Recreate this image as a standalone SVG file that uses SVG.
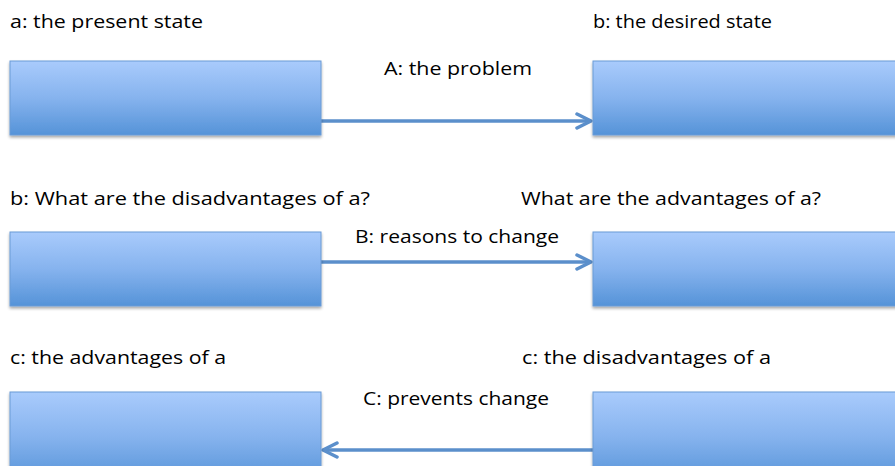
<svg xmlns="http://www.w3.org/2000/svg" width="895" height="466" viewBox="0 0 895 466">
  <defs>
    <linearGradient id="boxFill" x1="0" y1="0" x2="0" y2="1">
      <stop offset="0" stop-color="#a9cbfc"/>
      <stop offset="0.5" stop-color="#86b3ee"/>
      <stop offset="1" stop-color="#5593d8"/>
    </linearGradient>
    <filter id="shadow" x="-5%" y="-10%" width="110%" height="130%">
      <feGaussianBlur in="SourceAlpha" stdDeviation="1.5"/>
      <feOffset dx="0" dy="2" result="b"/>
      <feComponentTransfer><feFuncA type="linear" slope="0.35"/></feComponentTransfer>
      <feMerge><feMergeNode/><feMergeNode in="SourceGraphic"/></feMerge>
    </filter>
    <marker id="head" markerWidth="18" markerHeight="18" refX="16" refY="9" orient="auto" markerUnits="userSpaceOnUse">
      <path d="M2,2 L16,9 L2,16" fill="none" stroke="#5b8fcb" stroke-width="3.5" stroke-linecap="round" stroke-linejoin="round"/>
    </marker>
  </defs>
  <style>
    .box { fill: url(#boxFill); stroke: #6b9bd6; stroke-width: 1; filter: url(#shadow); }
    .lbl { font-family: "Open Sans", "Liberation Sans", sans-serif; font-size: 19px; fill: #000; }
    .conn { stroke: #5b8fcb; stroke-width: 3.5; fill: none; marker-end: url(#head); }
  </style>
  <rect width="895" height="466" fill="#fff"/>

  <g id="connectors">
    <line class="conn" x1="321" y1="121" x2="591" y2="121"/>
    <line class="conn" x1="321" y1="262" x2="591" y2="262"/>
    <line class="conn" x1="593" y1="450" x2="323" y2="450"/>
  </g>

  <g id="present-state">
    <rect class="box" x="10" y="61" width="311" height="74"/>
    <text class="lbl" x="10" y="28" textLength="193" lengthAdjust="spacingAndGlyphs">a: the present state</text>
  </g>
  <g id="desired-state">
    <rect class="box" x="593" y="61" width="310" height="74"/>
    <text class="lbl" x="593" y="28" textLength="179" lengthAdjust="spacingAndGlyphs">b: the desired state</text>
  </g>
  <g id="label-problem">
    <text class="lbl" x="384" y="75" textLength="148" lengthAdjust="spacingAndGlyphs">A: the problem</text>
  </g>

  <g id="disadvantages-question">
    <rect class="box" x="10" y="232" width="311" height="74"/>
    <text class="lbl" x="10" y="205" textLength="360" lengthAdjust="spacingAndGlyphs">b: What are the disadvantages of a?</text>
  </g>
  <g id="advantages-question">
    <rect class="box" x="593" y="232" width="310" height="74"/>
    <text class="lbl" x="521" y="205" textLength="300" lengthAdjust="spacingAndGlyphs">What are the advantages of a?</text>
  </g>
  <g id="label-reasons">
    <text class="lbl" x="355" y="243" textLength="204" lengthAdjust="spacingAndGlyphs">B: reasons to change</text>
  </g>

  <g id="advantages-of-a">
    <rect class="box" x="10" y="392" width="311" height="90"/>
    <text class="lbl" x="10" y="364" textLength="216" lengthAdjust="spacingAndGlyphs">c: the advantages of a</text>
  </g>
  <g id="disadvantages-of-a">
    <rect class="box" x="593" y="392" width="310" height="90"/>
    <text class="lbl" x="522" y="364" textLength="249" lengthAdjust="spacingAndGlyphs">c: the disadvantages of a</text>
  </g>
  <g id="label-prevents">
    <text class="lbl" x="363" y="405" textLength="186" lengthAdjust="spacingAndGlyphs">C: prevents change</text>
  </g>
</svg>
